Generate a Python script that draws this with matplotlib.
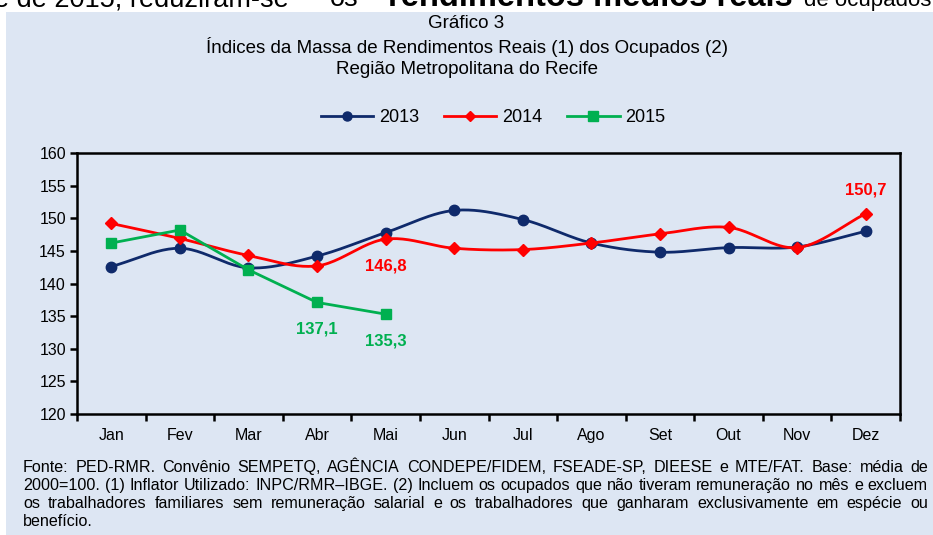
"""
Gráfico 3 - Índices da Massa de Rendimentos Reais dos Ocupados, RMR
"""

import numpy as np
import matplotlib.pyplot as plt
from matplotlib.patches import Rectangle

months = ['Jan', 'Fev', 'Mar', 'Abr', 'Mai', 'Jun', 'Jul', 'Ago', 'Set', 'Out', 'Nov', 'Dez']
idx_2013 = [142.6, 145.4, 142.4, 144.2, 147.8, 151.2, 149.8, 146.2, 144.8, 145.5, 145.6, 148.0]
idx_2014 = [149.2, 146.9, 144.3, 142.7, 146.8, 145.4, 145.2, 146.2, 147.6, 148.6, 145.5, 150.7]
idx_2015 = [146.2, 148.2, 142.1, 137.1, 135.3]

labels_2014 = {4: '146,8', 11: '150,7'}
labels_2015 = {3: '137,1', 4: '135,3'}

NAVY = '#0F2A6B'
RED = '#FF0000'
GREEN = '#00B050'
PANEL = '#DDE6F3'

plt.rcParams['font.family'] = ['Liberation Sans', 'DejaVu Sans']


def smooth(x, y, n=24):
    """Catmull-Rom curve through the points, like Excel's smoothed lines."""
    x = np.asarray(x, float)
    y = np.asarray(y, float)
    px = np.concatenate([[2 * x[0] - x[1]], x, [2 * x[-1] - x[-2]]])
    py = np.concatenate([[2 * y[0] - y[1]], y, [2 * y[-1] - y[-2]]])
    xs, ys = [], []
    t = np.linspace(0, 1, n, endpoint=False)
    for i in range(1, len(px) - 2):
        for arr, out in ((px, xs), (py, ys)):
            p0, p1, p2, p3 = arr[i - 1], arr[i], arr[i + 1], arr[i + 2]
            out.extend(0.5 * (2 * p1 + (-p0 + p2) * t
                              + (2 * p0 - 5 * p1 + 4 * p2 - p3) * t ** 2
                              + (-p0 + 3 * p1 - 3 * p2 + p3) * t ** 3))
    xs.append(x[-1])
    ys.append(y[-1])
    return xs, ys


def justified(fig, lines, x0, x1, y_top, step):
    """Footnote text spread over the full width, like a justified paragraph."""
    renderer = fig.canvas.get_renderer()
    W = fig.bbox.width
    # pick the size so the widest line just fits
    probe = [fig.text(0, 0, l, fontsize=10) for l in lines]
    maxw = max(p.get_window_extent(renderer).width for p in probe)
    for p in probe:
        p.remove()
    size = 10 * (x1 - x0 - 2) / maxw
    for k, line in enumerate(lines):
        y = y_top - k * step
        words = line.split(' ')
        if k == len(lines) - 1:
            fig.text(x0 / W, y, line, fontsize=size, va='baseline')
            continue
        objs = [fig.text(0, y, w, fontsize=size, va='baseline') for w in words]
        widths = [o.get_window_extent(renderer).width for o in objs]
        gap = (x1 - x0 - sum(widths)) / (len(words) - 1)
        pos = x0
        for o, w in zip(objs, widths):
            o.set_x(pos / W)
            pos += w + gap


fig = plt.figure(figsize=(9.33, 5.35), dpi=100)
fig.patches.append(Rectangle((6 / 933, 0), 1, 523 / 535, transform=fig.transFigure,
                             facecolor=PANEL, edgecolor='none', zorder=-10))

# cut-off text from the page above the chart
top_y = 1 - 6 / 535
fig.text(-6 / 933, top_y, 'e de 2015, reduziram-se', fontsize=19.5, va='baseline')
fig.text(330 / 933, top_y, 'os', fontsize=19.5, va='baseline')
fig.text(388 / 933, top_y, 'rendimentos médios reais', fontsize=23.5, va='baseline',
         fontweight='bold')
fig.text(804 / 933, top_y, 'de ocupados', fontsize=16, va='baseline')

fig.text(0.5, 1 - 23 / 535, 'Gráfico 3', ha='center', va='center', fontsize=13.5)
fig.text(0.5, 1 - 47 / 535, 'Índices da Massa de Rendimentos Reais (1) dos Ocupados (2)',
         ha='center', va='center', fontsize=13.5)
fig.text(0.5, 1 - 70 / 535, 'Região Metropolitana do Recife', ha='center', va='center',
         fontsize=13.5)

ax = fig.add_axes([77 / 933, 121 / 535, 823 / 933, 261 / 535])
ax.set_facecolor(PANEL)
x = np.arange(len(months))

sx, sy = smooth(x, idx_2013)
ax.plot(sx, sy, color=NAVY, lw=2)
ax.plot(x, idx_2013, 'o', color=NAVY, ms=7.5)
sx, sy = smooth(x, idx_2014)
ax.plot(sx, sy, color=RED, lw=2)
ax.plot(x, idx_2014, 'D', color=RED, ms=6.5)
ax.plot(x[:len(idx_2015)], idx_2015, color=GREEN, lw=2, marker='s', ms=7.5)

for i, s in labels_2014.items():
    dy = 17 if i == 11 else -19
    ax.annotate(s, (i, idx_2014[i]), xytext=(0, dy), textcoords='offset points',
                ha='center', va='center', color=RED, fontsize=12, fontweight='bold')
for i, s in labels_2015.items():
    ax.annotate(s, (i, idx_2015[i]), xytext=(0, -19), textcoords='offset points',
                ha='center', va='center', color=GREEN, fontsize=12, fontweight='bold')

ax.set_xlim(-0.5, 11.5)
ax.set_ylim(120, 160)
ax.set_yticks(np.arange(120, 161, 5))
ax.set_xticks(x)
ax.set_xticklabels(months)
ax.set_xticks(np.arange(-0.5, 12, 1), minor=True)
ax.tick_params(axis='x', which='major', length=0, pad=10, labelsize=11.5)
ax.tick_params(axis='x', which='minor', length=5, width=1.8, direction='out')
ax.tick_params(axis='y', length=5, width=1.8, direction='out', labelsize=11.5, pad=3)
for sp in ax.spines.values():
    sp.set_linewidth(1.8)

# legend
h1, = ax.plot([], [], color=NAVY, lw=2, marker='o', ms=6.5, label='2013')
h2, = ax.plot([], [], color=RED, lw=2, marker='D', ms=5, label='2014')
h3, = ax.plot([], [], color=GREEN, lw=2, marker='s', ms=6.5, label='2015')
fig.legend(handles=[h1, h2, h3], loc='center', bbox_to_anchor=(493 / 933, 1 - 118 / 535),
           ncol=3, frameon=False, fontsize=13, handlelength=2.9, columnspacing=1.4,
           handletextpad=0.3)

footer = [
    'Fonte: PED-RMR. Convênio SEMPETQ, AGÊNCIA CONDEPE/FIDEM, FSEADE-SP, DIEESE e MTE/FAT. Base: média de',
    '2000=100. (1) Inflator Utilizado: INPC/RMR–IBGE. (2) Incluem os ocupados que não tiveram remuneração no mês e excluem',
    'os trabalhadores familiares sem remuneração salarial e os trabalhadores que ganharam exclusivamente em espécie ou',
    'benefício.',
]
justified(fig, footer, 23, 928, 1 - 472 / 535, 18 / 535)

fig.savefig('out.png', dpi=100)
